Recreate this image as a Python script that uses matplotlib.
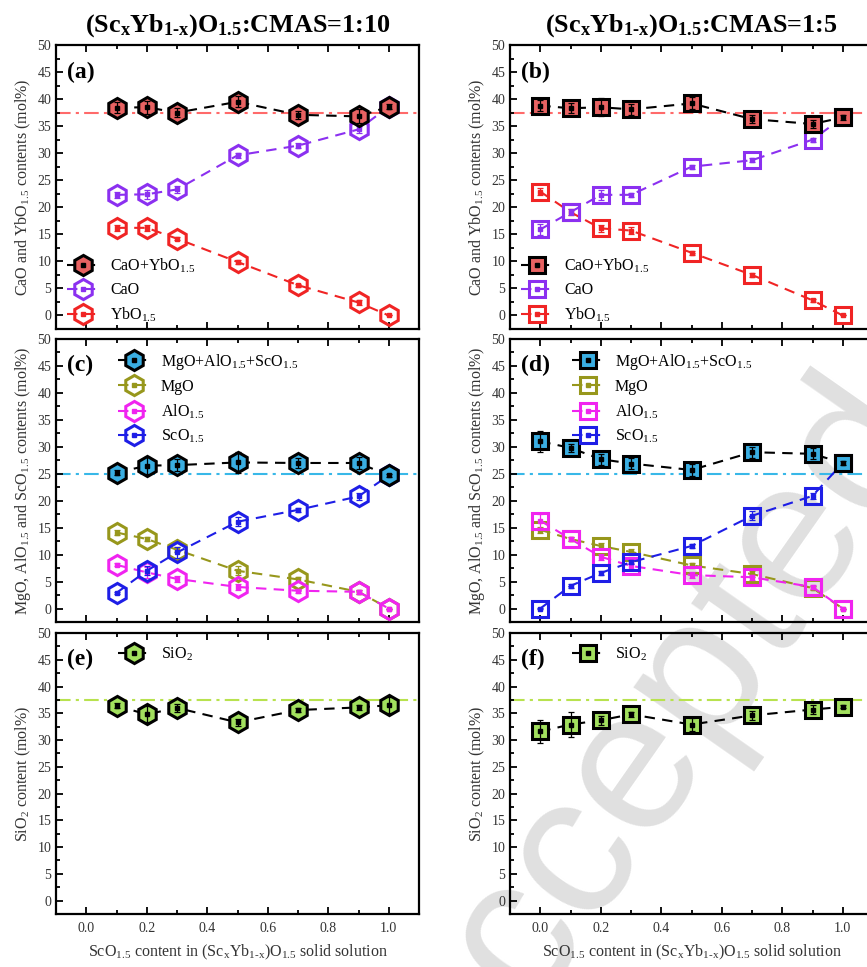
import matplotlib
matplotlib.use("Agg")
import matplotlib.pyplot as plt
import numpy as np
from matplotlib.ticker import MultipleLocator

plt.rcParams["font.family"] = ["Liberation Serif", "DejaVu Serif"]
plt.rcParams["mathtext.fontset"] = "custom"
plt.rcParams["mathtext.rm"] = "Liberation Serif"
plt.rcParams["mathtext.it"] = "Liberation Serif:italic"
plt.rcParams["mathtext.bf"] = "Liberation Serif:bold"
plt.rcParams["mathtext.default"] = "regular"

# ---- data: 1:10 (left column) ----
x10 = [0.1, 0.2, 0.3, 0.5, 0.7, 0.9, 1.0]
caybo_10 = [38.4, 38.5, 37.5, 39.5, 37.1, 36.8, 38.6]
caybo_10_err = [1.0, 1.2, 0.8, 1.0, 0.7, 1.3, 0.5]
cao_10 = [22.3, 22.4, 23.3, 29.6, 31.4, 34.4, 38.6]
cao_10_err = [0.6, 0.8, 0.6, 0.5, 0.4, 0.6, 0.0]
ybo_10 = [16.2, 16.2, 14.2, 9.9, 5.6, 2.4, 0.0]
ybo_10_err = [0.5, 0.6, 0.3, 0.3, 0.3, 0.5, 0.0]
mas_10 = [25.2, 26.5, 26.6, 27.1, 27.0, 27.0, 24.7]
mas_10_err = [0.5, 1.6, 1.1, 2.0, 1.0, 1.2, 0.3]
mgo_10 = [14.1, 12.9, 10.9, 7.0, 5.4, 3.1, 0.0]
mgo_10_err = [0.4, 0.3, 0.5, 0.8, 0.5, 0.4, 0.0]
alo_10 = [8.1, 6.7, 5.5, 4.0, 3.3, 3.1, 0.0]
alo_10_err = [0.3, 1.0, 0.6, 0.6, 0.4, 0.4, 0.0]
sco_10 = [2.9, 7.0, 10.4, 16.1, 18.3, 20.8, 24.7]
sco_10_err = [0.2, 0.8, 1.0, 0.8, 0.4, 0.6, 0.0]
sio_10 = [36.4, 34.8, 36.0, 33.3, 35.6, 36.1, 36.5]
sio_10_err = [0.5, 1.5, 0.7, 0.6, 0.4, 0.5, 1.5]

# ---- data: 1:5 (right column) ----
x5 = [0.0, 0.1, 0.2, 0.3, 0.5, 0.7, 0.9, 1.0]
caybo_5 = [38.8, 38.3, 38.5, 38.1, 39.2, 36.3, 35.4, 36.6]
caybo_5_err = [1.0, 0.9, 1.7, 1.0, 1.1, 0.7, 0.8, 0.4]
cao_5 = [15.9, 19.1, 22.3, 22.3, 27.5, 28.7, 32.5, 36.6]
cao_5_err = [1.0, 0.6, 0.9, 0.4, 0.4, 0.4, 0.4, 0.0]
ybo_5 = [22.9, 19.1, 16.1, 15.7, 11.6, 7.5, 2.8, 0.0]
ybo_5_err = [0.7, 0.5, 0.7, 0.6, 0.4, 0.3, 0.3, 0.0]
mas_5 = [31.0, 29.8, 27.7, 26.9, 25.7, 29.0, 28.7, 27.0]
mas_5_err = [1.9, 0.8, 1.0, 1.0, 1.2, 1.0, 1.0, 0.3]
mgo_5 = [14.6, 12.9, 11.6, 10.5, 8.0, 6.4, 3.8, 0.0]
mgo_5_err = [0.5, 0.4, 0.6, 0.5, 0.5, 0.5, 0.4, 0.0]
alo_5 = [16.3, 12.9, 9.6, 7.9, 6.2, 5.8, 4.0, 0.0]
alo_5_err = [1.3, 0.4, 0.6, 0.5, 0.5, 0.5, 0.4, 0.0]
sco_5 = [0.0, 4.2, 6.6, 8.6, 11.6, 17.2, 20.9, 27.0]
sco_5_err = [0.1, 0.4, 0.3, 0.4, 0.4, 0.8, 0.5, 0.0]
sio_5 = [31.6, 32.9, 33.7, 34.8, 32.9, 34.6, 35.7, 36.2]
sio_5_err = [2.1, 2.3, 0.8, 0.5, 1.2, 0.8, 0.8, 0.3]

W, H = 867, 967
fig = plt.figure(figsize=(W / 100, H / 100), dpi=100)


def add_ax(left, top, width, bottom):
    ax = fig.add_axes([left / W, (H - bottom) / H, width / W, (bottom - top) / H])
    ax.patch.set_alpha(0)
    return ax


rows = [(45, 329), (339, 622), (633, 914)]
cols = [56, 510]
axw = 363

# watermark, drawn behind the (transparent) axes
fig.text(655 / W, 1 - 750 / H, "Accepted", fontsize=145, family="Liberation Sans",
         color="#e0e0e0", rotation=55, rotation_mode="anchor",
         ha="center", va="center", zorder=-5)

red_ref = "#FF6A6A"
c_cay = "#E86262"
c_cao = "#8B30F0"
c_ybo = "#F02424"
c_mas = "#3AAEE2"
c_mgo = "#97971C"
c_alo = "#F024F0"
c_sco = "#1E1EE6"
c_sio = "#A2E05E"


def series(ax, x, y, err, marker, ms, face, edge, lcolor, label, z):
    ln, = ax.plot(x, y, ls="--", dashes=(5, 3.5), lw=1.5, color=lcolor, marker=marker,
                  ms=ms, mfc=face, mec=edge, mew=2.2, zorder=z, label=label)
    ax.errorbar(x, y, yerr=err, fmt="none", ecolor=edge, elinewidth=0.9, capsize=2,
                capthick=0.9, zorder=z + 0.5)
    dot, = ax.plot(x, y, ls="none", marker="s", ms=2.2, color=edge, zorder=z + 0.6)
    return (ln, dot)


def style(ax, ylabel, bottom):
    ax.set_xlim(-0.1, 1.1)
    ax.set_ylim(-2.5, 50)
    ax.xaxis.set_major_locator(MultipleLocator(0.2))
    ax.xaxis.set_minor_locator(MultipleLocator(0.1))
    ax.yaxis.set_major_locator(MultipleLocator(5))
    ax.yaxis.set_minor_locator(MultipleLocator(2.5))
    ax.tick_params(which="both", direction="in", top=True, right=False,
                   labelsize=10, labelcolor="#333333", width=1.3)
    ax.tick_params(which="major", length=5)
    ax.tick_params(which="minor", length=3)
    for s in ax.spines.values():
        s.set_linewidth(1.6)
    ax.set_ylabel(ylabel, fontsize=11.5, color="#333333", labelpad=3)
    if bottom:
        ax.set_xticks([0.0, 0.2, 0.4, 0.6, 0.8, 1.0])
        ax.set_xticklabels(["0.0", "0.2", "0.4", "0.6", "0.8", "1.0"])
        ax.tick_params(axis="x", pad=5.5)
        ax.set_xlabel("ScO$_{1.5}$ content in (Sc$_x$Yb$_{1\u2010x}$)O$_{1.5}$ solid solution",
                      fontsize=11.5, color="#333333", labelpad=6)
    else:
        ax.tick_params(axis="x", labelbottom=False)


def leg(ax, handles, labels, x, y):
    ax.legend(handles, labels, loc="upper left", bbox_to_anchor=(x, y), frameon=False,
              fontsize=11.5, handlelength=2.0, handletextpad=0.7, labelspacing=0.45,
              borderaxespad=0, borderpad=0)


def letter(ax, s):
    ax.text(0.03, 0.905, s, transform=ax.transAxes, fontsize=17,
            fontweight="bold", va="center")


panel_letters = [["(a)", "(c)", "(e)"], ["(b)", "(d)", "(f)"]]
titles = ["(Sc$_\\mathbf{x}$Yb$_\\mathbf{1\u2010x}$)O$_\\mathbf{1.5}$:CMAS=1:10",
          "(Sc$_\\mathbf{x}$Yb$_\\mathbf{1\u2010x}$)O$_\\mathbf{1.5}$:CMAS=1:5"]

data = [
    dict(x=x10, m="h", ms=14.5, cay=(caybo_10, caybo_10_err), cao=(cao_10, cao_10_err),
         ybo=(ybo_10, ybo_10_err), mas=(mas_10, mas_10_err), mgo=(mgo_10, mgo_10_err),
         alo=(alo_10, alo_10_err), sco=(sco_10, sco_10_err), sio=(sio_10, sio_10_err)),
    dict(x=x5, m="s", ms=11.0, cay=(caybo_5, caybo_5_err), cao=(cao_5, cao_5_err),
         ybo=(ybo_5, ybo_5_err), mas=(mas_5, mas_5_err), mgo=(mgo_5, mgo_5_err),
         alo=(alo_5, alo_5_err), sco=(sco_5, sco_5_err), sio=(sio_5, sio_5_err)),
]

for ci, d in enumerate(data):
    left = cols[ci]
    x, m, ms = d["x"], d["m"], d["ms"]

    # top panel: CaO / YbO1.5
    ax = add_ax(left, rows[0][0], axw, rows[0][1])
    ax.axhline(37.5, color=red_ref, lw=1.5, dashes=(7, 2.5, 1.5, 2.5), zorder=1)
    h3 = series(ax, x, *d["ybo"], m, ms, "none", c_ybo, c_ybo, "YbO$_{1.5}$", 2)
    h2 = series(ax, x, *d["cao"], m, ms, "none", c_cao, c_cao, "CaO", 3)
    h1 = series(ax, x, *d["cay"], m, ms, c_cay, "black", "black", "CaO+YbO$_{1.5}$", 4)
    style(ax, "CaO and YbO$_{1.5}$ contents (mol%)", False)
    leg(ax, [h1, h2, h3], ["CaO+YbO$_{1.5}$", "CaO", "YbO$_{1.5}$"], 0.03, 0.255)
    letter(ax, panel_letters[ci][0])
    ax.set_title(titles[ci], fontsize=18.8, fontweight="bold", pad=10)

    # middle panel: MgO / AlO1.5 / ScO1.5
    ax = add_ax(left, rows[1][0], axw, rows[1][1])
    ax.axhline(25, color="#38B8E8", lw=1.5, dashes=(7, 2.5, 1.5, 2.5), zorder=1)
    g2 = series(ax, x, *d["mgo"], m, ms, "none", c_mgo, c_mgo, "MgO", 2)
    g3 = series(ax, x, *d["alo"], m, ms, "none", c_alo, c_alo, "AlO$_{1.5}$", 3)
    g4 = series(ax, x, *d["sco"], m, ms, "none", c_sco, c_sco, "ScO$_{1.5}$", 4)
    g1 = series(ax, x, *d["mas"], m, ms, c_mas, "black", "black",
                "MgO+AlO$_{1.5}$+ScO$_{1.5}$", 5)
    style(ax, "MgO, AlO$_{1.5}$ and ScO$_{1.5}$ contents (mol%)", False)
    leg(ax, [g1, g2, g3, g4],
        ["MgO+AlO$_{1.5}$+ScO$_{1.5}$", "MgO", "AlO$_{1.5}$", "ScO$_{1.5}$"], 0.17, 0.955)
    letter(ax, panel_letters[ci][1])

    # bottom panel: SiO2
    ax = add_ax(left, rows[2][0], axw, rows[2][1])
    ax.axhline(37.5, color="#B8E24E", lw=1.5, dashes=(7, 2.5, 1.5, 2.5), zorder=1)
    s1 = series(ax, x, *d["sio"], m, ms, c_sio, "black", "black", "SiO$_2$", 3)
    style(ax, "SiO$_2$ content (mol%)", True)
    leg(ax, [s1], ["SiO$_2$"], 0.17, 0.955)
    letter(ax, panel_letters[ci][2])

fig.savefig("out.png", dpi=100)
